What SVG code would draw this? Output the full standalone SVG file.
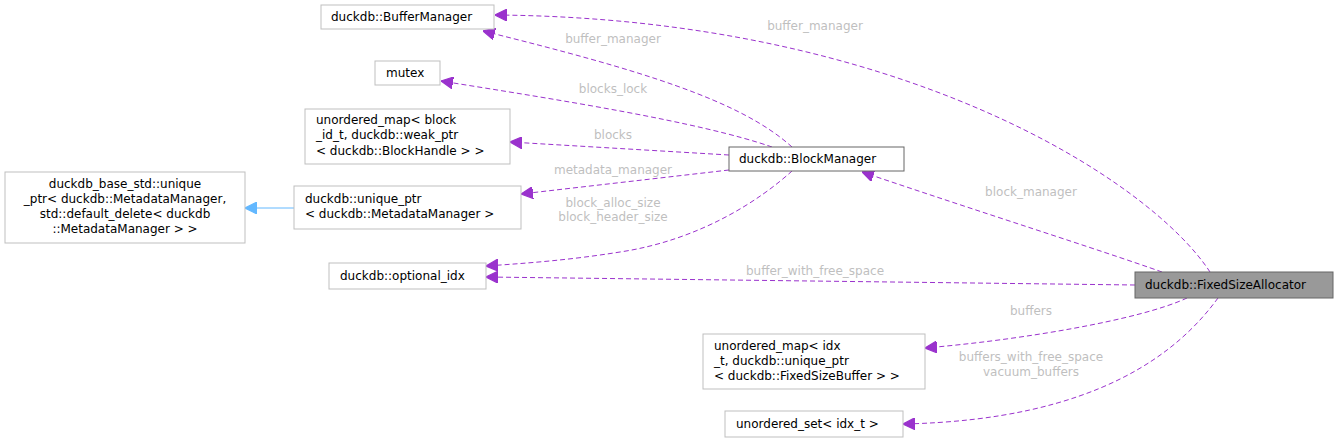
<svg xmlns="http://www.w3.org/2000/svg" width="1337" height="444" viewBox="0 0 1337 444">
<style>
.n rect{fill:#fff;stroke:#bfbfbf;stroke-width:1}
text{font-family:"DejaVu Sans",sans-serif;font-size:12px;fill:#000}
.e path{fill:none;stroke:#9a32cd;stroke-width:1;stroke-dasharray:5,3}
.l{fill:#bfbfbf;text-anchor:middle}
.c{text-anchor:middle}
</style>
<defs>
<marker id="p" viewBox="0 0 10 10" refX="10" refY="5" markerWidth="12" markerHeight="12" markerUnits="userSpaceOnUse" orient="auto"><path d="M0,0L10,5L0,10z" fill="#9a32cd" stroke="#9a32cd"/></marker>
<marker id="b" viewBox="0 0 10 10" refX="10" refY="5" markerWidth="12" markerHeight="12" markerUnits="userSpaceOnUse" orient="auto"><path d="M0,0L10,5L0,10z" fill="#63b8ff" stroke="#63b8ff"/></marker>
</defs>
<g id="edges" class="e">
<path d="M1210,272 C1150,180 900,18 495,15" marker-end="url(#p)"/>
<path d="M792,147 C740,100 640,70 483,31" marker-end="url(#p)"/>
<path d="M772,147 C700,122 560,100 441,81" marker-end="url(#p)"/>
<path d="M729,155 L510,142" marker-end="url(#p)"/>
<path d="M729,170 C660,178 590,186 521,194" marker-end="url(#p)"/>
<path d="M792,171 C760,200 700,240 620,252 C570,260 530,263 486,266" marker-end="url(#p)"/>
<path d="M1162,272 C1100,250 980,212 862,172" marker-end="url(#p)"/>
<path d="M1135,285 L486,277" marker-end="url(#p)"/>
<path d="M1187,298 C1140,320 1020,340 925,348" marker-end="url(#p)"/>
<path d="M1218,298 C1180,350 1100,420 903,424" marker-end="url(#p)"/>
<path d="M294,208 L245,208" style="stroke:#63b8ff;stroke-dasharray:none" marker-end="url(#b)"/>
<text class="l" x="815" y="30">buffer_manager</text>
<text class="l" x="613" y="43">buffer_manager</text>
<text class="l" x="613" y="93">blocks_lock</text>
<text class="l" x="613" y="139">blocks</text>
<text class="l" x="613" y="174">metadata_manager</text>
<text class="l" x="613" y="207">block_alloc_size</text>
<text class="l" x="613" y="221">block_header_size</text>
<text class="l" x="1031" y="196">block_manager</text>
<text class="l" x="815" y="275">buffer_with_free_space</text>
<text class="l" x="1031" y="315">buffers</text>
<text class="l" x="1031" y="361">buffers_with_free_space</text>
<text class="l" x="1031" y="376">vacuum_buffers</text>
</g>
<g id="BufferManager" class="n"><rect x="321" y="5" width="173" height="24"/><text x="331" y="21">duckdb::BufferManager</text></g>
<g id="mutex" class="n"><rect x="375" y="61" width="65" height="24"/><text x="386" y="77">mutex</text></g>
<g id="umap_block" class="n"><rect x="305" y="109" width="205" height="55"/><text x="316" y="124">unordered_map&lt; block</text><text x="316" y="139">_id_t, duckdb::weak_ptr</text><text x="316" y="155">&lt; duckdb::BlockHandle &gt; &gt;</text></g>
<g id="base_unique" class="n"><rect x="5" y="172" width="240" height="71"/><text class="c" x="125" y="188">duckdb_base_std::unique</text><text class="c" x="125" y="203">_ptr&lt; duckdb::MetadataManager,</text><text class="c" x="125" y="218">std::default_delete&lt; duckdb</text><text class="c" x="125" y="233">::MetadataManager &gt; &gt;</text></g>
<g id="unique_ptr" class="n"><rect x="294" y="186" width="227" height="43"/><text x="305" y="203">duckdb::unique_ptr</text><text x="305" y="218">&lt; duckdb::MetadataManager &gt;</text></g>
<g id="optional_idx" class="n"><rect x="329" y="263" width="157" height="26"/><text x="340" y="280">duckdb::optional_idx</text></g>
<g id="BlockManager" class="n"><rect x="729" y="147" width="175" height="24" style="stroke:#666"/><text x="739" y="163">duckdb::BlockManager</text></g>
<g id="FixedSizeAllocator" class="n"><rect x="1135" y="272" width="198" height="26" style="fill:#999;stroke:#666"/><text x="1145" y="289">duckdb::FixedSizeAllocator</text></g>
<g id="umap_idx" class="n"><rect x="703" y="334" width="222" height="55"/><text x="714" y="350">unordered_map&lt; idx</text><text x="714" y="365">_t, duckdb::unique_ptr</text><text x="714" y="380">&lt; duckdb::FixedSizeBuffer &gt; &gt;</text></g>
<g id="uset" class="n"><rect x="725" y="411" width="178" height="26"/><text x="736" y="428">unordered_set&lt; idx_t &gt;</text></g>
</svg>
